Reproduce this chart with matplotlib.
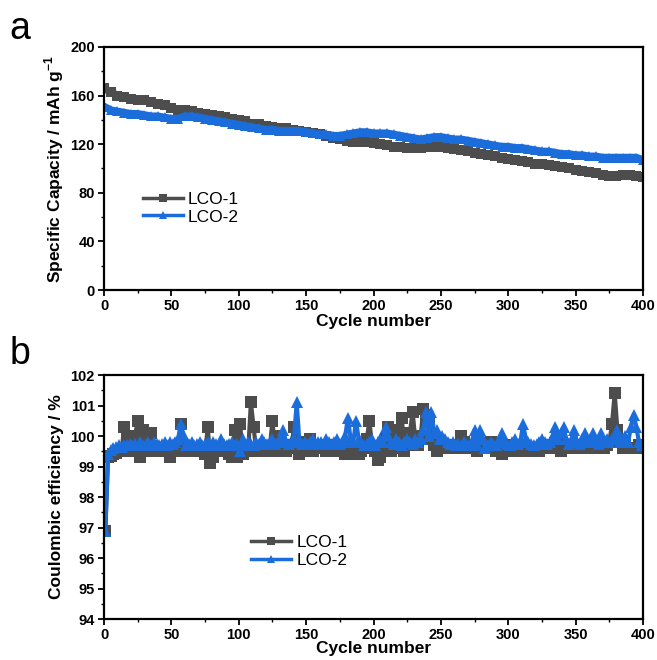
import numpy as np
import matplotlib
matplotlib.use("Agg")
import matplotlib.pyplot as plt
from matplotlib.ticker import MultipleLocator

plt.rcParams['font.family'] = ['Liberation Sans', 'DejaVu Sans']
plt.rcParams['mathtext.fontset'] = 'custom'
plt.rcParams['mathtext.bf'] = 'Liberation Sans:bold'
plt.rcParams['mathtext.rm'] = 'Liberation Sans:bold'

# panel a: specific capacity, read every 5 cycles
cap_cycles = np.arange(0, 401, 5)
cap_lco1 = [166, 163, 160, 159, 157, 156, 156, 155, 153, 152,
            150, 148, 148, 147, 146, 145, 144, 143, 142, 141,
            140, 139, 137, 137, 135, 134, 133, 133, 132, 131,
            130, 129, 128, 127, 125, 124, 123, 122, 122, 122,
            121, 120, 119, 118, 118, 117, 117, 117, 118, 118,
            118, 117, 116, 115, 114, 113, 112, 111, 110, 109,
            108, 107, 106, 105, 104, 104, 103, 102, 101, 100,
            99, 98, 97, 96, 95, 94, 94, 95, 95, 94,
            93]
cap_lco2 = [151, 148, 147, 146, 145, 145, 144, 143, 143, 142,
            141, 141, 143, 143, 142, 141, 140, 139, 138, 137,
            136, 135, 134, 133, 132, 132, 131, 131, 131, 131,
            130, 129, 128, 128, 127, 127, 128, 129, 130, 130,
            129, 129, 129, 128, 127, 126, 125, 124, 125, 126,
            126, 125, 124, 124, 123, 122, 121, 120, 119, 118,
            118, 117, 117, 116, 115, 114, 114, 113, 112, 112,
            111, 111, 110, 110, 109, 109, 109, 109, 109, 109,
            107]

# panel b: coulombic efficiency, read every 2 cycles
ce_cycles = np.arange(1, 400, 2)
ce_lco1 = [96.9, 99.3, 99.35, 99.4, 99.45, 99.5, 99.5, 100.3, 99.9, 99.5,
           99.5, 100.0, 100.5, 99.3, 100.2, 99.5, 100.0, 100.1, 99.5, 99.5,
           99.6, 99.5, 99.5, 99.6, 99.3, 99.5, 99.6, 99.5, 100.4, 99.6,
           99.5, 99.5, 99.6, 99.5, 99.5, 99.6, 99.5, 99.4, 100.3, 99.1,
           99.3, 99.6, 99.5, 99.5, 99.6, 99.5, 99.4, 99.3, 100.2, 99.3,
           100.4, 99.4, 99.5, 99.5, 101.1, 100.3, 99.5, 99.5, 99.5, 99.6,
           99.5, 99.6, 100.5, 99.5, 100.0, 99.6, 99.6, 99.5, 99.7, 99.6,
           100.3, 99.6, 99.4, 99.6, 99.5, 99.8, 99.9, 99.5, 99.6, 99.6,
           99.6, 99.7, 99.5, 99.6, 99.7, 99.5, 99.6, 99.5, 99.6, 99.4,
           99.6, 99.4, 99.5, 99.6, 99.4, 99.5, 99.6, 99.9, 100.5, 99.6,
           99.5, 99.2, 99.3, 99.7, 99.9, 100.3, 99.5, 99.9, 100.2, 99.6,
           100.6, 99.5, 99.7, 100.1, 100.8, 99.9, 99.7, 100.0, 100.9, 100.7,
           100.5, 99.9, 99.7, 99.5, 99.6, 99.7, 99.6, 99.7, 99.6, 99.7,
           99.7, 99.6, 100.0, 99.8, 99.6, 99.6, 99.7, 99.6, 99.5, 99.6,
           99.6, 99.7, 99.6, 99.8, 99.6, 99.5, 99.6, 99.4, 99.6, 99.7,
           99.6, 99.5, 99.6, 99.7, 99.5, 99.6, 99.6, 99.5, 99.6, 99.6,
           99.6, 99.5, 99.6, 99.6, 99.7, 99.6, 99.6, 99.6, 99.7, 99.5,
           99.6, 99.6, 99.7, 99.6, 99.6, 99.6, 99.6, 99.7, 99.6, 99.6,
           99.6, 99.6, 99.7, 99.6, 99.6, 99.6, 99.7, 99.8, 100.4, 101.4,
           100.2, 99.8, 99.6, 99.7, 99.6, 99.6, 99.6, 99.6, 99.7, 99.6]
ce_lco2 = [96.9, 99.4, 99.55, 99.6, 99.65, 99.7, 99.65, 99.7, 99.7, 99.75,
           99.7, 99.75, 99.7, 99.8, 99.7, 99.75, 99.8, 99.7, 99.8, 99.75,
           99.7, 99.75, 99.8, 99.7, 99.8, 99.75, 99.8, 99.9, 100.4, 100.0,
           99.7, 99.75, 99.8, 99.7, 99.75, 99.8, 99.7, 99.75, 99.8, 99.7,
           99.8, 99.75, 99.7, 99.9, 99.75, 99.7, 99.75, 99.8, 99.7, 99.75,
           99.5, 99.9, 99.7, 99.8, 99.75, 99.7, 99.8, 99.75, 99.9, 99.8,
           99.75, 99.8, 99.9, 99.75, 99.8, 99.9, 100.2, 99.8, 99.75, 99.8,
           99.9, 101.1, 99.8, 99.75, 99.8, 99.75, 99.8, 99.9, 99.75, 99.8,
           99.8, 99.75, 99.9, 99.8, 99.75, 99.8, 99.9, 99.75, 99.8, 100.0,
           100.6, 99.9, 99.8, 100.5, 99.9, 99.8, 99.7, 99.75, 99.8, 99.9,
           99.7, 99.8, 99.9, 99.8, 100.3, 100.0, 99.8, 99.75, 99.9, 99.8,
           99.7, 99.8, 99.9, 99.8, 99.75, 99.9, 99.8, 99.9, 100.2, 100.8,
           100.0, 100.8, 100.1, 100.2, 99.9, 100.0, 99.9, 99.8, 99.75, 99.8,
           99.7, 99.75, 99.7, 99.8, 99.75, 99.7, 99.8, 100.2, 99.7, 100.2,
           99.9, 99.6, 99.7, 99.8, 99.75, 99.7, 99.8, 100.1, 99.8, 99.75,
           99.7, 99.8, 99.9, 99.75, 99.8, 100.4, 99.9, 99.8, 99.75, 99.7,
           99.75, 99.8, 99.9, 99.8, 99.75, 99.8, 100.0, 100.3, 99.9, 100.1,
           100.3, 99.9, 99.75, 99.9, 100.2, 99.8, 99.75, 99.9, 100.1, 99.8,
           99.9, 100.1, 99.8, 99.75, 100.1, 99.8, 99.9, 99.8, 99.9, 100.0,
           100.2, 99.8, 99.9, 100.0, 99.8, 100.3, 100.7, 100.3, 99.8, 99.7]

labels = ["LCO-1", "LCO-2"]
gray = "#4d4d4d"
blue = "#1c6ddc"

fig = plt.figure(figsize=(6.57, 6.60), dpi=100)
ax1 = fig.add_axes([0.1583, 0.5606, 0.8204, 0.3682])
ax2 = fig.add_axes([0.1583, 0.0621, 0.8204, 0.3697])


def style(ax):
    for s in ax.spines.values():
        s.set_linewidth(1.6)
    ax.tick_params(which='major', direction='out', length=4.5, width=1.3,
                   labelsize=10.5, top=False, right=False, pad=2)
    ax.tick_params(which='minor', direction='out', length=2.5, width=1.0,
                   top=False, right=False)
    for lab in ax.get_xticklabels() + ax.get_yticklabels():
        lab.set_fontweight('bold')
    ax.xaxis.set_major_locator(MultipleLocator(50))
    ax.xaxis.set_minor_locator(MultipleLocator(25))
    ax.set_xlim(0, 400)


# panel a
ax1.plot(cap_cycles, cap_lco1, color=gray, marker='s', markersize=7,
         markeredgewidth=0, linewidth=5.5, label=labels[0])
ax1.plot(cap_cycles, cap_lco2, color=blue, marker='^', markersize=7.5,
         markeredgewidth=0, linewidth=5.5, label=labels[1])
ax1.set_ylim(0, 200)
ax1.yaxis.set_major_locator(MultipleLocator(40))
ax1.yaxis.set_minor_locator(MultipleLocator(20))
style(ax1)
ax1.set_xlabel("Cycle number", fontsize=12.5, fontweight='bold', labelpad=1)
ax1.set_ylabel(r"Specific Capacity / mAh g$^{-1}$", fontsize=12.5,
               fontweight='bold', labelpad=3)
leg1 = ax1.legend(loc='center left', bbox_to_anchor=(0.072, 0.337),
                  frameon=False, fontsize=12.5, borderaxespad=0, borderpad=0,
                  handlelength=2.3, handletextpad=0.3, labelspacing=0.15,
                  markerscale=0.85)
for ln in leg1.get_lines():
    ln.set_linewidth(2.5)

# panel b
ax2.plot(ce_cycles, ce_lco1, color=gray, marker='s', markersize=8,
         markeredgewidth=0, linewidth=3, label=labels[0])
ax2.plot(ce_cycles, ce_lco2, color=blue, marker='^', markersize=8.5,
         markeredgewidth=0, linewidth=3, label=labels[1])
ax2.set_ylim(94, 102)
ax2.yaxis.set_major_locator(MultipleLocator(1))
ax2.yaxis.set_minor_locator(MultipleLocator(0.5))
style(ax2)
ax2.set_xlabel("Cycle number", fontsize=12.5, fontweight='bold', labelpad=-1)
ax2.set_ylabel("Coulombic efficiency / %", fontsize=12.5,
               fontweight='bold', labelpad=5)
leg2 = ax2.legend(loc='center left', bbox_to_anchor=(0.273, 0.277),
                  frameon=False, fontsize=12.5, borderaxespad=0, borderpad=0,
                  handlelength=2.3, handletextpad=0.3, labelspacing=0.15,
                  markerscale=0.75)
for ln in leg2.get_lines():
    ln.set_linewidth(2.5)

fig.text(0.015, 0.956, "a", fontsize=27, ha='left', va='center')
fig.text(0.015, 0.464, "b", fontsize=27, ha='left', va='center')

fig.savefig("out.png", dpi=100)
